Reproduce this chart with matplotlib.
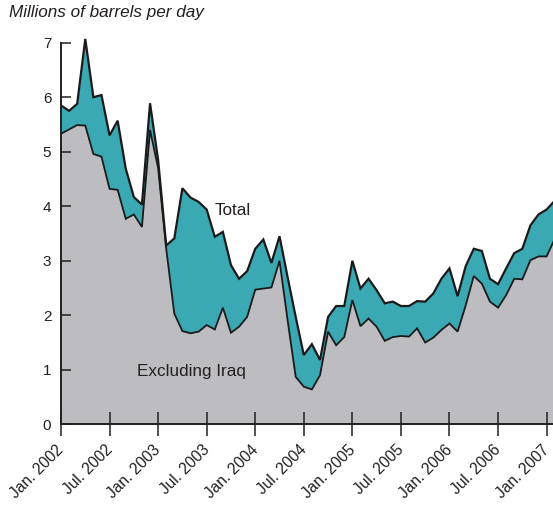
import matplotlib
matplotlib.use("Agg")
import matplotlib.pyplot as plt
import matplotlib.transforms as mtransforms
import numpy as np

# Monthly data, Jan 2002 .. Feb 2007
total = [5.85, 5.75, 5.88, 7.07, 6.00, 6.04, 5.30, 5.57, 4.69, 4.17, 4.03, 5.89,
         4.85, 3.28, 3.41, 4.33, 4.16, 4.08, 3.94, 3.44, 3.53, 2.92, 2.67, 2.81,
         3.22, 3.39, 2.96, 3.45, 2.70, 1.97, 1.27, 1.47, 1.18, 1.97, 2.17, 2.17,
         3.00, 2.49, 2.67, 2.46, 2.22, 2.25, 2.17, 2.17, 2.26, 2.25, 2.40, 2.67,
         2.86, 2.35, 2.90, 3.22, 3.18, 2.67, 2.57, 2.86, 3.14, 3.22, 3.65, 3.85,
         3.94, 4.10]
excl_iraq = [5.33, 5.41, 5.49, 5.48, 4.96, 4.91, 4.32, 4.30, 3.77, 3.85, 3.62, 5.40,
             4.70, 3.22, 2.03, 1.71, 1.67, 1.70, 1.82, 1.74, 2.14, 1.68, 1.79, 1.97,
             2.47, 2.49, 2.51, 3.00, 1.91, 0.87, 0.69, 0.64, 0.90, 1.70, 1.45, 1.60,
             2.28, 1.80, 1.94, 1.79, 1.53, 1.60, 1.62, 1.61, 1.76, 1.50, 1.59, 1.73,
             1.85, 1.70, 2.18, 2.72, 2.58, 2.25, 2.14, 2.37, 2.67, 2.66, 3.01, 3.08,
             3.08, 3.40]
tick_labels = ["Jan. 2002", "Jul. 2002", "Jan. 2003", "Jul. 2003", "Jan. 2004",
               "Jul. 2004", "Jan. 2005", "Jul. 2005", "Jan. 2006", "Jul. 2006",
               "Jan. 2007"]
y_ticks = [0, 1, 2, 3, 4, 5, 6, 7]

plt.rcParams['font.family'] = ['Liberation Sans', 'DejaVu Sans']
TXT = '#231F20'
TEAL = '#3BA9B4'
GREY = '#BDBDC1'

W, H = 553, 505
fig = plt.figure(figsize=(W / 100, H / 100), dpi=100)
x = np.arange(len(total))
xmax = len(total) - 1
left_px, right_px = 61, 554.7
y0_px, ppu = 424.3, 54.51
ytop = 7.3
top_px = y0_px - ytop * ppu
ax = fig.add_axes([left_px / W, (H - y0_px) / H, (right_px - left_px) / W, (y0_px - top_px) / H])

ax.fill_between(x, 0, excl_iraq, color=GREY, lw=0, zorder=1)
ax.fill_between(x, excl_iraq, total, color=TEAL, lw=0, zorder=1)
ax.plot(x, total, color='#1a1a1a', lw=1.6, zorder=3, solid_joinstyle='miter')
ax.plot(x, excl_iraq, color='#1a1a1a', lw=1.3, zorder=3, solid_joinstyle='miter')

ax.set_xlim(0, xmax)
ax.set_ylim(0, ytop)
for s in ['top', 'right']:
    ax.spines[s].set_visible(False)
ax.spines['left'].set_bounds(0, 7)
ax.spines['left'].set_linewidth(1.4)
ax.spines['bottom'].set_linewidth(1.4)
ax.spines['left'].set_color(TXT)
ax.spines['bottom'].set_color(TXT)

ax.set_yticks(y_ticks)
ax.set_yticklabels([str(v) for v in y_ticks])
ax.tick_params(axis='y', direction='in', length=7, width=1.1, colors=TXT,
               labelsize=11, pad=7)
ax.set_xticks(np.arange(0, 6 * len(tick_labels), 6))
ax.set_xticklabels(tick_labels, rotation=45, ha='right', va='top', rotation_mode='anchor')
ax.tick_params(axis='x', direction='inout', length=17, width=1.1, colors=TXT,
               labelsize=11.2, pad=0)
offset = mtransforms.ScaledTranslation(-5 / 100, -6 / 100, fig.dpi_scale_trans)
for lab in ax.get_xticklabels():
    lab.set_color(TXT)
    lab.set_transform(lab.get_transform() + offset)

fig.text(9 / W, 1 - 13 / H, 'Millions of barrels per day', fontsize=12.3,
         style='italic', color=TXT, ha='left', va='center')
ax.text(19.0, 3.93, 'Total', fontsize=12.3, color=TXT, ha='left', va='center', zorder=4)
ax.text(9.45, 0.965, 'Excluding Iraq', fontsize=12.3, color=TXT, ha='left', va='center', zorder=4)

fig.savefig('out.png', dpi=100)
